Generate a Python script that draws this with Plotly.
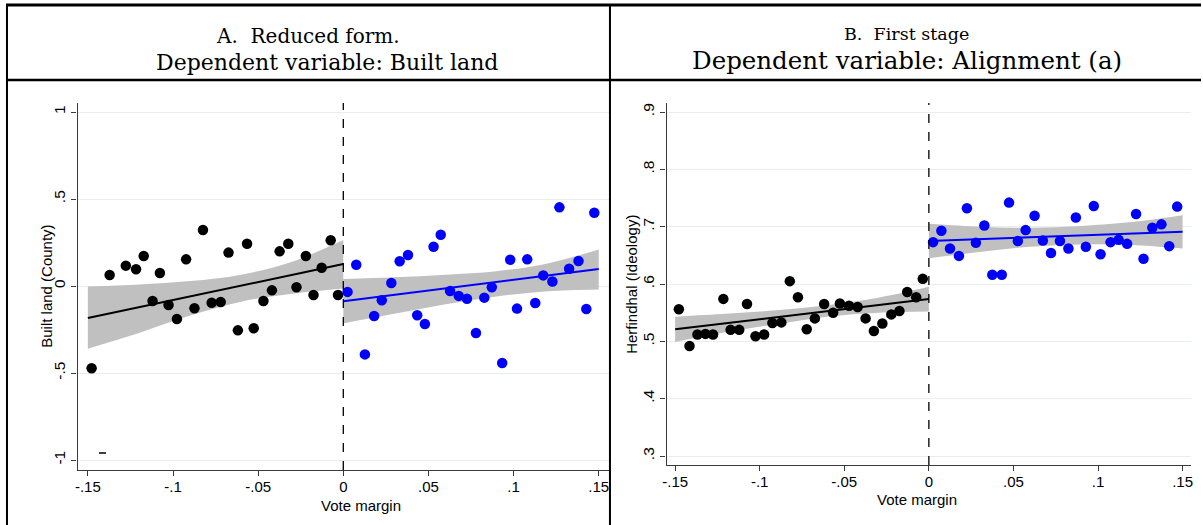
import plotly.graph_objects as go

# ---------------- DATA ----------------
# Panel A: Reduced form, Built land (County) vs Vote margin
a_left_x = [-0.1478, -0.1372, -0.1277, -0.1217, -0.1172, -0.1120, -0.1077, -0.1026, -0.0977,
            -0.0923, -0.0874, -0.0824, -0.0773, -0.0720, -0.0674, -0.0619, -0.0565, -0.0526,
            -0.0469, -0.0419, -0.0374, -0.0323, -0.0275, -0.0220, -0.0175, -0.0127, -0.0074, -0.0031]
a_left_y = [-0.473, 0.063, 0.117, 0.096, 0.172, -0.086, 0.075, -0.109, -0.190,
            0.153, -0.128, 0.322, -0.096, -0.092, 0.192, -0.255, 0.243, -0.243,
            -0.086, -0.025, 0.199, 0.243, -0.007, 0.172, -0.052, 0.105, 0.263, -0.052]
a_right_x = [0.0025, 0.0076, 0.0127, 0.0181, 0.0226, 0.0282, 0.0331, 0.0380, 0.0434, 0.0479,
             0.0530, 0.0572, 0.0627, 0.0678, 0.0726, 0.0779, 0.0828, 0.0872, 0.0933, 0.0980,
             0.1020, 0.1080, 0.1127, 0.1174, 0.1228, 0.1269, 0.1326, 0.1381, 0.1427, 0.1474]
a_right_y = [-0.034, 0.122, -0.393, -0.172, -0.082, 0.017, 0.142, 0.178, -0.168, -0.218,
             0.226, 0.295, -0.029, -0.057, -0.073, -0.270, -0.067, -0.007, -0.443, 0.151,
             -0.130, 0.153, -0.098, 0.061, 0.026, 0.452, 0.099, 0.144, -0.132, 0.421]
a_stray_x = [-0.1414]
a_stray_y = [-0.960]

a_fitL_x = [-0.15, 0.0]
a_fitL_y = [-0.184, 0.126]
a_fitR_x = [0.0, 0.15]
a_fitR_y = [-0.088, 0.098]
a_ciL_x = [-0.15, -0.12, -0.09, -0.06, -0.03, 0.0]
a_ciL_hi = [-0.003, 0.008, 0.028, 0.065, 0.140, 0.264]
a_ciL_lo = [-0.360, -0.270, -0.170, -0.090, -0.045, -0.015]
a_ciR_x = [0.0, 0.03, 0.06, 0.09, 0.12, 0.15]
a_ciR_hi = [0.040, 0.050, 0.065, 0.085, 0.130, 0.210]
a_ciR_lo = [-0.215, -0.160, -0.105, -0.060, -0.030, -0.020]

# Panel B: First stage, Herfindhal (Ideology) vs Vote margin
b_left_x = [-0.1478, -0.1415, -0.1368, -0.1321, -0.1276, -0.1215, -0.1172, -0.1121, -0.1075, -0.1025,
            -0.0974, -0.0925, -0.0872, -0.0822, -0.0774, -0.0722, -0.0674, -0.0619, -0.0566, -0.0526,
            -0.0472, -0.0421, -0.0374, -0.0325, -0.0275, -0.0222, -0.0174, -0.0128, -0.0075, -0.0036]
b_left_y = [0.556, 0.492, 0.512, 0.513, 0.512, 0.574, 0.520, 0.520, 0.565, 0.509,
            0.512, 0.532, 0.533, 0.605, 0.577, 0.521, 0.540, 0.565, 0.550, 0.566,
            0.562, 0.560, 0.540, 0.518, 0.531, 0.547, 0.553, 0.586, 0.577, 0.609]
b_right_x = [0.0025, 0.0074, 0.0125, 0.0178, 0.0225, 0.0278, 0.0328, 0.0375, 0.0431, 0.0474,
             0.0526, 0.0572, 0.0625, 0.0674, 0.0722, 0.0775, 0.0825, 0.0869, 0.0928, 0.0975,
             0.1015, 0.1074, 0.1122, 0.1172, 0.1225, 0.1269, 0.1321, 0.1375, 0.1421, 0.1468]
b_right_y = [0.673, 0.693, 0.662, 0.649, 0.732, 0.672, 0.702, 0.616, 0.616, 0.742,
             0.675, 0.694, 0.719, 0.676, 0.654, 0.675, 0.662, 0.716, 0.665, 0.736,
             0.652, 0.673, 0.677, 0.670, 0.722, 0.644, 0.698, 0.704, 0.666, 0.735]
b_fitL_x = [-0.15, 0.0]
b_fitL_y = [0.521, 0.574]
b_fitR_x = [0.0, 0.15]
b_fitR_y = [0.675, 0.691]
b_ciL_x = [-0.15, -0.12, -0.09, -0.06, -0.03, 0.0]
b_ciL_hi = [0.543, 0.548, 0.554, 0.563, 0.576, 0.595]
b_ciL_lo = [0.499, 0.516, 0.530, 0.543, 0.550, 0.552]
b_ciR_x = [0.0, 0.03, 0.06, 0.09, 0.12, 0.15]
b_ciR_hi = [0.705, 0.700, 0.698, 0.701, 0.708, 0.720]
b_ciR_lo = [0.645, 0.656, 0.665, 0.669, 0.668, 0.662]

x_tickvals = [-0.15, -0.1, -0.05, 0, 0.05, 0.1, 0.15]
x_ticktext = ["-.15", "-.1", "-.05", "0", ".05", ".1", ".15"]
a_y_tickvals = [-1, -0.5, 0, 0.5, 1]
a_y_ticktext = ["-1", "-.5", "0", ".5", "1"]
b_y_tickvals = [0.3, 0.4, 0.5, 0.6, 0.7, 0.8, 0.9]
b_y_ticktext = [".3", ".4", ".5", ".6", ".7", ".8", ".9"]

# ---------------- LAYOUT HELPERS ----------------
W, H = 1203, 525
def fx(px):
    return px / W
def fy(py):
    return 1 - py / H

BAND = "#c0c0c0"
BLUE = "#0000ff"
GRID = "#e6eff0"
AXC = "#3a3a3a"
SANS = "Liberation Sans, Arial, Helvetica, sans-serif"
SERIF = "DejaVu Serif, Liberation Serif, serif"

fig = go.Figure()

def add_panel(xa, ya, ciL_x, ciL_hi, ciL_lo, ciR_x, ciR_hi, ciR_lo,
              fitL_x, fitL_y, fitR_x, fitR_y, lx, ly, rx, ry):
    for cx, hi, lo in [(ciL_x, ciL_hi, ciL_lo), (ciR_x, ciR_hi, ciR_lo)]:
        fig.add_trace(go.Scatter(x=cx, y=hi, mode="lines", line=dict(width=0, color=BAND, shape="spline"),
                                 xaxis=xa, yaxis=ya, showlegend=False, hoverinfo="skip"))
        fig.add_trace(go.Scatter(x=cx, y=lo, mode="lines", line=dict(width=0, color=BAND, shape="spline"),
                                 fill="tonexty", fillcolor=BAND,
                                 xaxis=xa, yaxis=ya, showlegend=False, hoverinfo="skip"))
    fig.add_trace(go.Scatter(x=lx, y=ly, mode="markers", marker=dict(color="black", size=10.5),
                             xaxis=xa, yaxis=ya, showlegend=False))
    fig.add_trace(go.Scatter(x=rx, y=ry, mode="markers", marker=dict(color=BLUE, size=10.5),
                             xaxis=xa, yaxis=ya, showlegend=False))
    fig.add_trace(go.Scatter(x=fitL_x, y=fitL_y, mode="lines", line=dict(color="black", width=2),
                             xaxis=xa, yaxis=ya, showlegend=False))
    fig.add_trace(go.Scatter(x=fitR_x, y=fitR_y, mode="lines", line=dict(color=BLUE, width=2),
                             xaxis=xa, yaxis=ya, showlegend=False))

add_panel("x", "y", a_ciL_x, a_ciL_hi, a_ciL_lo, a_ciR_x, a_ciR_hi, a_ciR_lo,
          a_fitL_x, a_fitL_y, a_fitR_x, a_fitR_y, a_left_x, a_left_y, a_right_x, a_right_y)
fig.add_trace(go.Scatter(x=a_stray_x, y=a_stray_y, mode="markers",
                         marker=dict(symbol="line-ew", size=5, line=dict(color="black", width=1.5)),
                         xaxis="x", yaxis="y", showlegend=False))
add_panel("x2", "y2", b_ciL_x, b_ciL_hi, b_ciL_lo, b_ciR_x, b_ciR_hi, b_ciR_lo,
          b_fitL_x, b_fitL_y, b_fitR_x, b_fitR_y, b_left_x, b_left_y, b_right_x, b_right_y)

common_x = dict(tickmode="array", tickvals=x_tickvals, ticktext=x_ticktext, showgrid=False,
                zeroline=False, showline=True, linecolor=AXC, linewidth=1.4, ticks="outside",
                ticklen=5, tickwidth=1.2, tickcolor=AXC, ticklabelstandoff=-2,
                tickfont=dict(family=SANS, size=15, color="black"))
common_y = dict(tickmode="array", showgrid=True, gridcolor=GRID, gridwidth=1, zeroline=False,
                showline=True, linecolor=AXC, linewidth=1.4, ticks="outside", ticklen=5, tickwidth=1.2,
                tickcolor=AXC, tickangle=-90, tickfont=dict(family=SANS, size=15.5, color="black"))

fig.update_layout(
    width=W, height=H, margin=dict(l=0, r=0, t=0, b=0),
    paper_bgcolor="white", plot_bgcolor="white",
    xaxis=dict(domain=[fx(74), fx(608)], range=[-0.156, 0.156], anchor="y", **common_x),
    yaxis=dict(domain=[fy(470), fy(103)], range=[-1.0575, 1.0517], anchor="x",
               tickvals=a_y_tickvals, ticktext=a_y_ticktext, **common_y),
    xaxis2=dict(domain=[fx(666), fx(1193)], range=[-0.155, 0.155], anchor="y2", **common_x),
    yaxis2=dict(domain=[fy(465), fy(103)], range=[0.2843, 0.9157], anchor="x2",
                tickvals=b_y_tickvals, ticktext=b_y_ticktext, **common_y),
)

# dashed cutoff lines
for xr, yr in [("x", "y"), ("x2", "y2")]:
    fig.add_shape(type="line", xref=xr, yref=yr + " domain", x0=0, x1=0, y0=0, y1=1,
                  line=dict(color="black", width=1.3, dash="dash"))

# table borders
def hline(y, x0, x1, w):
    fig.add_shape(type="line", xref="paper", yref="paper", x0=fx(x0), x1=fx(x1), y0=fy(y), y1=fy(y),
                  line=dict(color="black", width=w))
def vline(x, y0, y1, w):
    fig.add_shape(type="line", xref="paper", yref="paper", x0=fx(x), x1=fx(x), y0=fy(y0), y1=fy(y1),
                  line=dict(color="black", width=w))
hline(5, 2, 1203, 3)
hline(80, 2, 1203, 2.5)
vline(3, 4, 525, 2)
vline(609, 4, 525, 2)

def text(s, x, y, size, family=SERIF, angle=0):
    fig.add_annotation(text=s, x=fx(x), y=fy(y), xref="paper", yref="paper", showarrow=False,
                       xanchor="center", yanchor="middle", textangle=angle,
                       font=dict(family=family, size=size, color="black"))

text("A.  Reduced form.", 306, 36, 20)
text("Dependent variable: Built land", 325, 62, 22)
text("B.  First stage", 907, 34, 17.5)
text("Dependent variable: Alignment (a)", 908, 60, 24.5)

text("Built land (County)", 42, 286, 15, SANS, -90)
text("Herfindhal (Ideology)", 630, 284, 15, SANS, -90)
text("Vote margin", 359, 505, 15, SANS)
text("Vote margin", 918, 499, 15, SANS)

fig.write_html("out.html")
